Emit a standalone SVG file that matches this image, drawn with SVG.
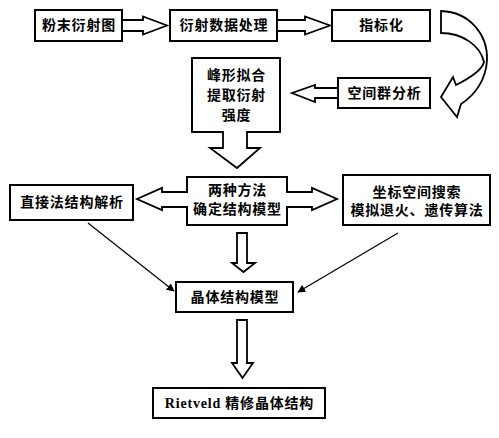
<svg xmlns="http://www.w3.org/2000/svg" width="499" height="438" viewBox="0 0 499 438">
<defs>
<style>
.box{fill:#fff;stroke:#000;stroke-width:2}
.blk{fill:#fff;stroke:#000;stroke-width:1.8;stroke-linejoin:miter}
.t{font-family:"Liberation Serif","Noto Sans CJK SC",serif;font-size:14px;font-weight:bold;letter-spacing:0.8px;text-anchor:middle;dominant-baseline:central;fill:#000}
.thin{stroke:#000;stroke-width:1.2;fill:none;marker-end:url(#ah)}
</style>
<marker id="ah" viewBox="0 0 10 10" refX="9" refY="5" markerWidth="8" markerHeight="8" markerUnits="userSpaceOnUse" orient="auto">
<path d="M0,0 L10,5 L0,10 Z" fill="#000"/>
</marker>
</defs>
<rect width="499" height="438" fill="#fff"/>

<g id="n1"><rect class="box" x="35" y="10" width="87" height="31"/><text class="t" x="79" y="25.5">粉末衍射图</text></g>
<g id="n2"><rect class="box" x="170" y="10" width="107" height="31"/><text class="t" x="224" y="25.5">衍射数据处理</text></g>
<g id="n3"><rect class="box" x="332" y="10" width="98" height="31"/><text class="t" x="381.5" y="25.5">指标化</text></g>
<g id="n4"><rect class="box" x="338" y="78" width="92" height="30"/><text class="t" x="384.5" y="93">空间群分析</text></g>
<g id="n5"><rect class="box" x="192" y="58" width="88" height="74"/>
<text class="t" x="236.5" y="75">峰形拟合</text><text class="t" x="236.5" y="95">提取衍射</text><text class="t" x="236.5" y="115">强度</text></g>
<g id="n6"><rect class="box" x="187" y="177" width="100" height="48"/>
<text class="t" x="237.5" y="190">两种方法</text><text class="t" x="237.5" y="209">确定结构模型</text></g>
<g id="n7"><rect class="box" x="10" y="185" width="123" height="35"/><text class="t" x="72" y="202.5">直接法结构解析</text></g>
<g id="n8"><rect class="box" x="343" y="175" width="147" height="50"/>
<text class="t" x="417" y="192">坐标空间搜索</text><text class="t" x="417" y="210">模拟退火、遗传算法</text></g>
<g id="n9"><rect class="box" x="176" y="282" width="117" height="30"/><text class="t" x="235" y="297">晶体结构模型</text></g>
<g id="n10"><rect class="box" x="153" y="388" width="172" height="30"/><text class="t" x="239.5" y="403">Rietveld 精修晶体结构</text></g>

<g id="connectors">
<path class="blk" d="M122,20 H143 V16.5 L167,25.5 L143,34.5 V31 H122 Z"/>
<path class="blk" d="M277,20 H305 V16.5 L330,25.5 L305,34.5 V31 H277 Z"/>
<path class="blk" d="M441,11 C470,12 488,35 487,60 C486,80 475,95 461,104 L457,117 L441,97 L453,77 L456,85 C470,78 482,70 484,62 C480,45 462,33 441,33 Z"/>
<path class="blk" d="M338,88 H315 V85 L292,93 L315,102 V98 H338 Z"/>
<path class="blk" d="M223,131 V148 H210 L237,168 L260,148 H247 V131"/>
<path class="blk" d="M188,192 H162 V188 L137,199 L162,210 V207 H188"/>
<path class="blk" d="M286,192 H312 V188 L337,199 L312,210 V207 H286"/>
<path class="blk" d="M237,233 V263 H232 L243.5,272 L255,263 H247 V233 Z"/>
<path class="blk" d="M237,320 V363 H232 L242.5,378 L253,363 H247 V320 Z"/>
<line class="thin" x1="88" y1="223" x2="174" y2="291"/>
<line class="thin" x1="398" y1="233" x2="298" y2="292"/>
</g>
</svg>
